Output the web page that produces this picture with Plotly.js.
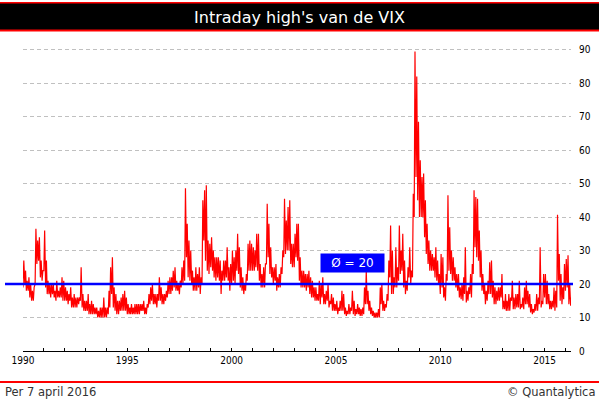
<!DOCTYPE html>
<html><head><meta charset="utf-8">
<script src="https://cdn.plot.ly/plotly-3.0.1.min.js"></script>
<style>html,body{margin:0;padding:0;background:#fff}</style>
</head><body><div id="chart" style="width:599px;height:399px"></div>
<script>
// Monthly max / min of the daily intraday highs of the VIX
const startYear = 1990;
const endDate = '2016-04-07';

const high1990s = [
  27, 24, 21, 22, 20, 18, 19, 36.5, 33, 34, 27, 24,
  36, 27, 21, 20, 20, 20, 18, 21, 18, 19, 22, 21,
  19, 18, 17, 19, 16, 17, 16, 16, 16, 25, 17, 15,
  15, 17, 14, 15, 14, 13, 13, 12, 13, 13, 16, 13,
  13, 18, 25, 28, 19, 17, 15, 15, 16, 17, 18, 16,
  14, 13, 14, 13, 14, 14, 14, 14, 14, 15, 13, 14,
  17, 19, 20, 17, 17, 17, 22, 19, 17, 17, 18, 21,
  22, 22, 24, 25, 21, 20, 21, 25, 27, 48.6, 38, 33,
  30, 24, 22, 25, 23, 25, 22, 45, 48, 49.5, 33, 32,
  34, 30, 28, 28, 28, 27, 24, 27, 27, 31, 25, 26
];
const low1990s = [
  19, 20, 18, 18, 16, 15, 15, 20, 26, 27, 22, 21,
  24, 19, 17, 17, 16, 17, 16, 15, 16, 16, 16, 15,
  15, 15, 14, 15, 13, 13, 13, 13, 14, 15, 13, 12,
  12, 12, 11, 11, 11, 11, 11, 10, 10, 10, 10, 10,
  10, 11, 13, 17, 13, 12, 11, 11, 12, 12, 12, 12,
  11, 11, 11, 11, 11, 11, 11, 11, 12, 12, 11, 11,
  13, 14, 15, 14, 14, 13, 15, 15, 14, 14, 15, 16,
  17, 17, 18, 19, 18, 18, 17, 19, 20, 21, 28, 22,
  21, 20, 18, 18, 18, 19, 17, 20, 33, 27, 24, 23,
  25, 24, 22, 21, 22, 21, 17, 21, 21, 22, 21, 18
];
const high2000s = [
  30, 28, 30, 35, 31, 25, 22, 20, 23, 32, 33, 32,
  31, 30, 35, 35, 26, 23, 25, 26, 44, 38, 31, 25,
  25, 26, 22, 23, 25, 30, 45.5, 39, 43, 45, 32, 32,
  35, 38, 38, 28, 24, 24, 23, 23, 24, 22, 21, 19,
  19, 17, 21, 20, 22, 17, 18, 20, 15, 17, 16, 14,
  15, 13, 15, 18, 17, 13, 12, 14, 13, 18, 15, 12.5,
  14, 13, 12.5, 13, 19, 24, 18, 15, 13, 12, 11.5, 11.5,
  12.5, 19, 20, 15, 14, 17, 27, 37.5, 30, 22, 31, 25,
  37.5, 30, 35, 27, 21, 25, 31, 24, 47, 89.5, 82, 68.5,
  57, 52, 53, 45, 38, 33, 30, 29, 28, 31, 27, 23
];
const low2000s = [
  20, 21, 20, 24, 23, 19, 18, 17, 18, 21, 24, 24,
  24, 24, 25, 24, 21, 19, 19, 19, 26, 28, 23, 22,
  20, 21, 18, 19, 19, 23, 28, 29, 30, 30, 26, 25,
  25, 28, 27, 21, 19, 19, 19, 18, 19, 17, 16, 16,
  15, 15, 15, 14, 16, 14, 14, 15, 13, 14, 12, 12,
  12, 11, 12, 12, 12, 11, 10.5, 11, 11, 12, 11, 10.5,
  11, 11, 10.5, 10.5, 11, 14, 14, 12, 11, 10.5, 10, 10,
  10, 10, 14, 12, 12, 13, 15, 22, 17, 17, 19, 19,
  21, 23, 24, 19, 17, 18, 22, 20, 22, 40, 52, 45,
  40, 40, 40, 34, 29, 26, 24, 24, 24, 22, 21, 20
];
const high2010s = [
  29, 28, 19, 23, 46.5, 37, 30, 28, 25, 23, 23, 19,
  20, 22, 31, 18, 19, 23, 26, 48, 46, 45.5, 36, 30,
  23, 20, 18, 21, 26.5, 27, 21, 19, 18, 19, 19, 23,
  15, 17, 15, 17, 16, 21, 16, 17, 17, 21, 14, 16,
  19, 21, 18, 17, 14, 12.5, 14, 17, 16, 31, 15, 23,
  23, 21, 17, 15, 15, 19, 18, 40.7, 29, 23, 19, 26,
  27.5, 28.6, 20, 16
];
const low2010s = [
  17, 19, 16, 15, 21, 24, 23, 21, 21, 19, 18, 16,
  15.5, 15, 17, 14.5, 15, 17, 16, 23, 31, 28, 27, 22,
  18, 17, 14, 15, 17, 17, 16, 14, 14, 15, 15, 16,
  12.5, 12.5, 12, 12, 12, 15, 12.5, 12.5, 13, 13, 12.5, 13,
  12.5, 14, 14, 13, 11.5, 11, 11.5, 12, 12, 14, 13, 14,
  16, 14, 14, 12.5, 12.5, 13, 12, 13, 21, 15, 14, 15.5,
  18, 19, 14, 13.5
];

const averageLevel = 20;
const yTicks = [0, 10, 20, 30, 40, 50, 60, 70, 80, 90];
const titleText = "Intraday high's van de VIX";
const avgLabel = 'Ø = 20';
const footLeft = 'Per 7 april 2016';
const footRight = '© Quantalytica';

const highs = high1990s.concat(high2000s, high2010s);
const lows = low1990s.concat(low2000s, low2010s);
const xs = [], ys = [];
for (let i = 0; i < highs.length; i++) {
  const yr = startYear + Math.floor(i / 12);
  const mm = String(i % 12 + 1).padStart(2, '0');
  const d1 = yr + '-' + mm + '-01';
  let d2 = yr + '-' + mm + '-15';
  if (d2 > endDate) d2 = endDate;
  xs.push(d1, d2);
  ys.push(lows[i], highs[i]);
}

const W = 599, H = 399;
const M = {l: 23, r: 28, t: 33, b: 48};
const PW = W - M.l - M.r, PH = H - M.t - M.b;
const px2x = px => (px - M.l) / PW;
const py2y = py => (H - M.b - py) / PH;

const tickFont = {family: 'DejaVu Sans Condensed, DejaVu Sans, sans-serif', size: 10, color: '#000'};

const trace = {
  type: 'scatter', mode: 'lines', x: xs, y: ys,
  line: {color: '#ff0000', width: 1.2}, hoverinfo: 'skip'
};

const layout = {
  width: W, height: H, margin: M,
  paper_bgcolor: '#fff', plot_bgcolor: '#fff', showlegend: false,
  title: {text: titleText, font: {family: 'DejaVu Sans, sans-serif', size: 16, color: '#fff'},
          x: 0.5, xref: 'container', y: 1 - 17 / H, yref: 'container', yanchor: 'middle', xanchor: 'center'},
  xaxis: {
    type: 'date', range: ['1990-01-01', endDate],
    tick0: '1990-01-01', dtick: 'M60', tickformat: '%Y',
    ticks: 'inside', ticklen: 3, tickcolor: '#000', tickwidth: 1,
    minor: {dtick: 'M12', ticks: 'inside', ticklen: 3, tickcolor: '#000', showgrid: false},
    showline: true, linecolor: '#000', linewidth: 1,
    showgrid: false, zeroline: false, tickfont: tickFont, fixedrange: true
  },
  yaxis: {
    side: 'right', range: [0, 95], tickvals: yTicks, ticks: '',
    ticklabelstandoff: 7,
    showgrid: true, gridcolor: '#c0c0c0', griddash: '4px,3px', gridwidth: 1,
    showline: false, zeroline: false, tickfont: tickFont, fixedrange: true
  },
  shapes: [
    {type: 'rect', xref: 'paper', yref: 'paper', x0: px2x(0), x1: px2x(W), y0: py2y(31.5), y1: py2y(2),
     fillcolor: '#ff0000', line: {width: 0}, layer: 'above'},
    {type: 'rect', xref: 'paper', yref: 'paper', x0: px2x(0), x1: px2x(W), y0: py2y(29.5), y1: py2y(3.5),
     fillcolor: '#000', line: {width: 0}, layer: 'above'},
    {type: 'rect', xref: 'paper', yref: 'paper', x0: px2x(0), x1: px2x(W), y0: py2y(383), y1: py2y(381),
     fillcolor: '#ff0000', line: {width: 0}, layer: 'above'},
    {type: 'line', xref: 'paper', yref: 'y', x0: px2x(5), x1: px2x(573), y0: averageLevel, y1: averageLevel,
     line: {color: '#0000ff', width: 2.5}, layer: 'above'}
  ],
  annotations: [
    {text: avgLabel, xref: 'x', yref: 'y', x: '2005-10-20', y: 26.3, showarrow: false,
     bgcolor: '#0000ff', width: 63, height: 18, borderpad: 0,
     font: {family: 'DejaVu Sans, sans-serif', size: 12, color: '#fff'}},
    {text: footLeft, xref: 'paper', yref: 'paper', x: px2x(3), y: py2y(392), xanchor: 'left', yanchor: 'middle',
     showarrow: false, font: {family: 'DejaVu Sans, sans-serif', size: 11.5, color: '#333'}},
    {text: footRight, xref: 'paper', yref: 'paper', x: px2x(597), y: py2y(392), xanchor: 'right', yanchor: 'middle',
     showarrow: false, font: {family: 'DejaVu Sans, sans-serif', size: 11.5, color: '#333'}}
  ]
};

Plotly.newPlot('chart', [trace], layout, {displayModeBar: false, staticPlot: true});
</script>
</body></html>
